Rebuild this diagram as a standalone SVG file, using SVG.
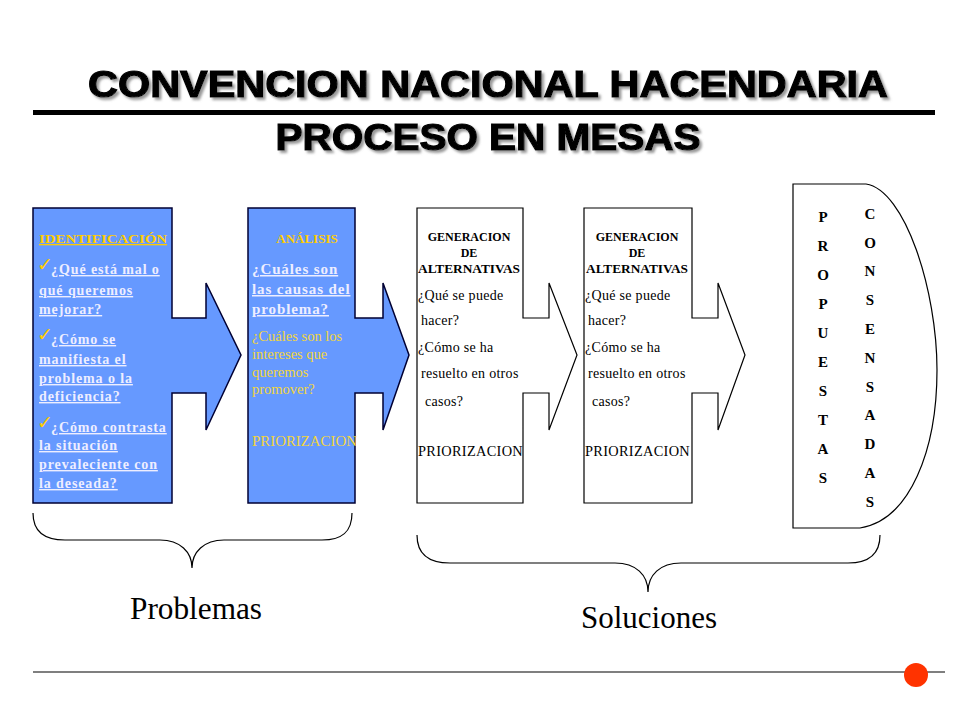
<svg xmlns="http://www.w3.org/2000/svg" width="960" height="720" viewBox="0 0 960 720">
<defs>
  <filter id="shadow" x="-5%" y="-20%" width="110%" height="150%">
    <feDropShadow dx="2.5" dy="2.5" stdDeviation="1.2" flood-color="#808080" flood-opacity="0.8"/>
  </filter>
</defs>
<style>
.title{font-family:"Liberation Sans",Arial,sans-serif;font-weight:bold;font-size:37px;fill:#000;stroke:#000;stroke-width:1.2px;filter:url(#shadow)}
.blue{fill:#6699FF;stroke:#000033;stroke-width:1.5}
.white{fill:#fff;stroke:#000;stroke-width:1.2}
.head{font-family:"Liberation Serif","Times New Roman",serif;font-weight:bold;font-size:13px;fill:#FFCC00;text-decoration:underline}
.q{font-family:"Liberation Serif","Times New Roman",serif;font-weight:bold;font-size:14px;fill:#EEEEFF;letter-spacing:0.9px;text-decoration:underline}
.q2{font-family:"Liberation Serif","Times New Roman",serif;font-weight:bold;font-size:15px;fill:#EEEEFF;letter-spacing:0.9px;text-decoration:underline}
.gold{font-family:"Liberation Serif","Times New Roman",serif;font-size:14.5px;fill:#F2D53C}
.chk{font-family:"DejaVu Sans",sans-serif;font-size:19px;font-weight:bold;fill:#FFCC00}
.gh{font-family:"Liberation Serif","Times New Roman",serif;font-weight:bold;font-size:12px;fill:#000;text-anchor:middle}
.gt{font-family:"Liberation Serif","Times New Roman",serif;font-size:14px;fill:#000;letter-spacing:0.3px}
.vl{font-family:"Liberation Serif","Times New Roman",serif;font-weight:bold;font-size:15px;fill:#000;text-anchor:middle}
.big{font-family:"Liberation Serif","Times New Roman",serif;font-size:32px;fill:#000;text-anchor:middle}
.brace{fill:none;stroke:#000;stroke-width:1.2}
</style>

<g id="title">
  <text class="title" x="488" y="97" text-anchor="middle" textLength="800" lengthAdjust="spacingAndGlyphs">CONVENCION NACIONAL HACENDARIA</text>
  <rect x="33" y="110" width="902" height="5" fill="#000"/>
  <text class="title" x="488" y="150" text-anchor="middle" textLength="425" lengthAdjust="spacingAndGlyphs">PROCESO EN MESAS</text>
</g>

<g id="identificacion">
  <path class="blue" d="M33,208 H172 V318 H206 V283 L241,355 L206,430 V393 H172 V503 H33 Z"/>
  <text class="head" x="39" y="243" textLength="128" lengthAdjust="spacingAndGlyphs">IDENTIFICACIÓN</text>
  <text class="chk" x="37" y="271">✓</text>
  <text class="q" x="51" y="274">¿Qué está mal o</text>
  <text class="q" x="39" y="295">qué queremos</text>
  <text class="q" x="39" y="314">mejorar?</text>
  <text class="chk" x="37" y="341">✓</text>
  <text class="q" x="51" y="344">¿Cómo se</text>
  <text class="q" x="39" y="364">manifiesta el</text>
  <text class="q" x="39" y="383">problema o la</text>
  <text class="q" x="39" y="401">deficiencia?</text>
  <text class="chk" x="37" y="429">✓</text>
  <text class="q" x="51" y="432">¿Cómo contrasta</text>
  <text class="q" x="39" y="450">la situación</text>
  <text class="q" x="39" y="469">prevaleciente con</text>
  <text class="q" x="39" y="488">la deseada?</text>
</g>

<g id="analisis">
  <path class="blue" d="M248,208 H355 V318 H383 V283 L409,355 L383,430 V393 H355 V503 H248 Z"/>
  <text class="head" x="307" y="243" text-anchor="middle" style="text-decoration:none">ANÁLISIS</text>
  <text class="q2" x="252" y="274">¿Cuáles son</text>
  <text class="q2" x="252" y="294">las causas del</text>
  <text class="q2" x="252" y="314">problema?</text>
  <text class="gold" x="252" y="341">¿Cuáles son los</text>
  <text class="gold" x="252" y="359">intereses que</text>
  <text class="gold" x="252" y="377">queremos</text>
  <text class="gold" x="252" y="394">promover?</text>
  <text class="gold" x="252" y="446" textLength="105" lengthAdjust="spacingAndGlyphs">PRIORIZACION</text>
</g>

<g id="generacion1">
  <path class="white" d="M417,208 H523 V318 H549 V283 L577,355 L549,430 V393 H523 V503 H417 Z"/>
  <text class="gh" x="469" y="241">GENERACION</text>
  <text class="gh" x="469" y="257">DE</text>
  <text class="gh" x="469" y="273" textLength="102" lengthAdjust="spacingAndGlyphs">ALTERNATIVAS</text>
  <text class="gt" x="418" y="300">¿Qué se puede</text>
  <text class="gt" x="421" y="325">hacer?</text>
  <text class="gt" x="418" y="352">¿Cómo se ha</text>
  <text class="gt" x="421" y="378">resuelto en otros</text>
  <text class="gt" x="425" y="406">casos?</text>
  <text class="gt" x="418" y="456" textLength="105" lengthAdjust="spacingAndGlyphs">PRIORIZACION</text>
</g>

<g id="generacion2">
  <path class="white" d="M584,208 H692 V318 H718 V283 L745,355 L718,430 V393 H692 V503 H584 Z"/>
  <text class="gh" x="637" y="241">GENERACION</text>
  <text class="gh" x="637" y="257">DE</text>
  <text class="gh" x="637" y="273" textLength="102" lengthAdjust="spacingAndGlyphs">ALTERNATIVAS</text>
  <text class="gt" x="585" y="300">¿Qué se puede</text>
  <text class="gt" x="588" y="325">hacer?</text>
  <text class="gt" x="585" y="352">¿Cómo se ha</text>
  <text class="gt" x="588" y="378">resuelto en otros</text>
  <text class="gt" x="592" y="406">casos?</text>
  <text class="gt" x="585" y="456" textLength="105" lengthAdjust="spacingAndGlyphs">PRIORIZACION</text>
</g>

<g id="consensadas">
  <path class="white" d="M793,184 L866,184 C905,190 937,290 937,370 C937,450 910,520 860,528 L793,528 Z"/>
  <text class="vl" x="823" y="222">P</text>
  <text class="vl" x="823" y="251">R</text>
  <text class="vl" x="823" y="280">O</text>
  <text class="vl" x="823" y="309">P</text>
  <text class="vl" x="823" y="338">U</text>
  <text class="vl" x="823" y="367">E</text>
  <text class="vl" x="823" y="396">S</text>
  <text class="vl" x="823" y="425">T</text>
  <text class="vl" x="823" y="454">A</text>
  <text class="vl" x="823" y="483">S</text>
  <text class="vl" x="870" y="219">C</text>
  <text class="vl" x="870" y="248">O</text>
  <text class="vl" x="870" y="276">N</text>
  <text class="vl" x="870" y="305">S</text>
  <text class="vl" x="870" y="334">E</text>
  <text class="vl" x="870" y="363">N</text>
  <text class="vl" x="870" y="392">S</text>
  <text class="vl" x="870" y="420">A</text>
  <text class="vl" x="870" y="449">D</text>
  <text class="vl" x="870" y="478">A</text>
  <text class="vl" x="870" y="507">S</text>
</g>

<g id="connectors">
  <path class="brace" d="M33,513 C33,532 45,540 65,540 L160,540 C180,540 192,552 192,568 C192,552 204,540 224,540 L322,540 C342,540 352,532 352,513"/>
  <path class="brace" d="M417,535 C417,555 430,563 450,563 L615,563 C636,563 648,575 648,592 C648,575 660,563 681,563 L848,563 C868,563 880,555 880,535"/>
</g>

<g id="labels">
  <text class="big" x="196" y="619" textLength="132" lengthAdjust="spacingAndGlyphs">Problemas</text>
  <text class="big" x="649" y="628" textLength="136" lengthAdjust="spacingAndGlyphs">Soluciones</text>
</g>

<g id="footer">
  <line x1="33" y1="672" x2="945" y2="672" stroke="#000" stroke-width="1.2"/>
  <circle cx="916" cy="675" r="12" fill="#FF3300"/>
</g>
</svg>
